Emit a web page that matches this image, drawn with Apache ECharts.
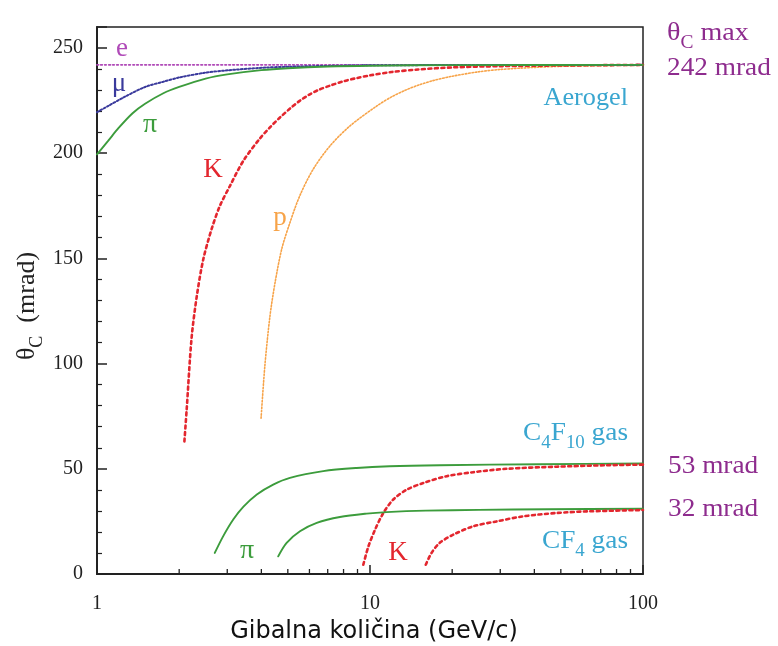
<!DOCTYPE html>
<html><head><meta charset="utf-8">
<script src="https://cdn.jsdelivr.net/npm/echarts@6/dist/echarts.min.js"></script>
<style>html,body{margin:0;padding:0;background:#fff}#c{width:778px;height:646px}</style>
</head><body><div id="c"></div>
<script>
// Aerogel radiator
const eP = [1, 100];
const eTheta = [242, 242];
const muP = [1, 1.1, 1.25, 1.5, 1.75, 2, 2.5, 3, 4, 5, 7, 10, 20, 100];
const muTheta = [219.5, 222.5, 226.5, 231.5, 234, 236, 238.3, 239.4, 240.6, 241.1, 241.5, 241.8, 241.9, 242];
const piP = [1, 1.1, 1.2, 1.35, 1.5, 1.75, 2, 2.5, 3, 4, 5, 7, 10, 20, 100];
const piTheta = [199.5, 206, 212, 219, 223.5, 228.5, 231.5, 235.5, 237.5, 239.5, 240.4, 241.2, 241.6, 241.9, 242];
const kP = [2.09, 2.13, 2.22, 2.32, 2.45, 2.63, 2.82, 3.07, 3.44, 3.95, 4.3, 4.68, 5.1, 5.54, 6, 6.5, 7.2, 8, 9, 10, 12, 15, 20, 30, 50, 100];
const kTheta = [63, 78, 112, 132, 149.5, 164, 175, 184.5, 196.5, 207, 212.3, 217, 221.3, 225, 227.9, 230.2, 232.3, 234.2, 235.8, 237, 238.6, 239.8, 240.8, 241.4, 241.7, 242];
const pP = [3.99, 4.12, 4.30, 4.49, 4.75, 5.09, 5.54, 6.2, 7.14, 8.45, 10.6, 12, 13.5, 15, 17, 20, 25, 30, 40, 50, 70, 100];
const pTheta = [74, 99, 122.5, 138.5, 154.5, 167, 180, 192.5, 203.5, 213, 222.5, 226.8, 230, 232.3, 234.5, 236.6, 238.7, 239.8, 240.8, 241.3, 241.6, 241.8];
// C4F10 gas
const gPiP = [2.70, 2.90, 3.16, 3.44, 3.85, 4.42, 5.09, 6.74, 8.93, 11.8, 18, 42, 100];
const gPiTheta = [10, 18, 26, 32, 37.8, 42.5, 45.7, 48.9, 50.4, 51.2, 51.7, 52.2, 52.5];
const gKP = [9.45, 9.86, 10.43, 11.19, 12.17, 13.6, 15.7, 19.1, 23.9, 31.6, 48.2, 73.5, 100];
const gKTheta = [4.4, 13, 21, 29, 35.4, 40, 43.3, 46.5, 48.4, 50, 51, 51.7, 52];
// CF4 gas
const cPiP = [4.61, 4.95, 5.54, 6.38, 7.76, 9.72, 11.5, 16, 25, 45, 100];
const cPiTheta = [8.4, 14.8, 20.3, 24.3, 27.1, 28.7, 29.4, 30.1, 30.5, 30.8, 31];
const cKP = [16.0, 16.8, 18.0, 20.2, 23.9, 29.1, 36.4, 48.2, 64, 100];
const cKTheta = [4.4, 10, 14.8, 18.7, 22.7, 25, 27.4, 29, 29.8, 30.4];
// axis ticks
const yTicks = [0, 50, 100, 150, 200, 250];
const xLabels = [1, 10, 100];
const xMinorTicks = [2, 3, 4, 5, 6, 7, 8, 9, 20, 30, 40, 50, 60, 70, 80, 90];

const zip = (a, b) => a.map((v, i) => [v, b[i]]);
const GREEN = '#3c9c3c', RED = '#e3262e', ORANGE = '#f7a348', NAVY = '#3a3a9c', PINK = '#b04ab8';
const TXTP = '#8e2c8e', CYAN = '#3aa6d0';
const SERIF = '"Liberation Serif", "DejaVu Serif", serif';

function line(name, data, color, width, type) {
  return {
    name, type: 'line', data, showSymbol: false, symbol: 'none',
    smooth: 0.3, z: 3,
    lineStyle: { color, width, type, cap: 'round' }
  };
}

const chart = echarts.init(document.getElementById('c'));
const txt = (x, y, text, color, size, align, rich, sx) => ({
  type: 'text', x, y, scaleX: sx || 1, style: {
    text, fill: color, fontFamily: SERIF, fontSize: size,
    align: align || 'center', verticalAlign: 'middle', rich: rich || undefined
  }
});
const sub = (color, size) => ({
  m: { fontFamily: SERIF, fontSize: size, fill: color, color },
  s: { fontFamily: SERIF, fontSize: Math.round(size * 0.68), fill: color, color, verticalAlign: 'bottom', padding: [0, 0, -6, 0] }
});

chart.setOption({
  animation: false,
  grid: { left: 97, right: 135, top: 27, bottom: 72, show: true, borderColor: '#222', borderWidth: 1.5, backgroundColor: 'transparent' },
  xAxis: {
    type: 'log', logBase: 10, min: 1, max: 100,
    axisLine: { lineStyle: { color: '#222', width: 2 } },
    axisTick: { show: true, inside: true, length: 9, lineStyle: { color: '#222', width: 1.5 } },
    splitLine: { show: false },
    axisLabel: { margin: 20, fontFamily: SERIF, fontSize: 20, color: '#222',
      formatter: v => (xLabels.indexOf(Math.round(v)) >= 0 ? String(Math.round(v)) : '') }
  },
  yAxis: {
    type: 'value', min: 0, max: 260, interval: 50,
    axisLine: { show: true, lineStyle: { color: '#222', width: 2 } },
    axisTick: { show: true, inside: true, length: 10, lineStyle: { color: '#222', width: 1.5 } },
    minorTick: { show: true, splitNumber: 5, length: 5, lineStyle: { color: '#222', width: 1.2 } },
    splitLine: { show: false },
    axisLabel: { margin: 14, fontFamily: SERIF, fontSize: 20, color: '#222', showMaxLabel: false,
      formatter: v => (yTicks.indexOf(v) >= 0 ? String(v) : '') }
  },
  series: [
    {
      type: 'custom', z: 4, silent: true,
      data: xMinorTicks.map(v => [v, 0]),
      renderItem: (params, api) => {
        const pt = api.coord([api.value(0), 0]);
        return { type: 'line', shape: { x1: pt[0], y1: pt[1], x2: pt[0], y2: pt[1] - 5 },
          style: { stroke: '#222', lineWidth: 1.3 } };
      }
    },
    line('e', zip(eP, eTheta), PINK, 1.8, [1.5, 2.5]),
    line('p', zip(pP, pTheta), ORANGE, 1.6, [1.5, 1.8]),
    line('K', zip(kP, kTheta), RED, 2.6, [3, 3.5]),
    line('mu', zip(muP, muTheta), NAVY, 2, [1.8, 2]),
    line('pi', zip(piP, piTheta), GREEN, 1.9, 'solid'),
    line('pi C4F10', zip(gPiP, gPiTheta), GREEN, 1.9, 'solid'),
    line('K C4F10', zip(gKP, gKTheta), RED, 2.6, [3, 3.5]),
    line('pi CF4', zip(cPiP, cPiTheta), GREEN, 1.9, 'solid'),
    line('K CF4', zip(cKP, cKTheta), RED, 2.6, [3, 3.5])
  ],
  graphic: [
    txt(122, 49, 'e', PINK, 27),
    txt(119, 84, 'μ', NAVY, 27),
    txt(150, 125, 'π', GREEN, 28),
    txt(213, 170, 'K', RED, 27),
    txt(280, 218, 'p', ORANGE, 27),
    txt(247, 551, 'π', GREEN, 28),
    txt(398, 553, 'K', RED, 27),
    txt(628, 98, 'Aerogel', CYAN, 25, 'right', null, 1.05),
    txt(628, 433, '{m|C}{s|4}{m|F}{s|10}{m| gas}', CYAN, 26, 'right', sub(CYAN, 26), 1.05),
    txt(628, 541, '{m|CF}{s|4}{m| gas}', CYAN, 26, 'right', sub(CYAN, 26), 1.05),
    txt(667, 33, '{m|θ}{s|C}{m| max}', TXTP, 26, 'left', sub(TXTP, 26), 1.08),
    txt(667, 68, '242 mrad', TXTP, 26, 'left', null, 1.05),
    txt(668, 466, '53 mrad', TXTP, 26, 'left', null, 1.05),
    txt(668, 509, '32 mrad', TXTP, 26, 'left', null, 1.05),
    {
      type: 'text', x: 27, y: 306, rotation: Math.PI / 2,
      style: { text: '{m|θ}{s|C}{m|  (mrad)}', align: 'center', verticalAlign: 'middle', fill: '#222',
        fontFamily: SERIF, fontSize: 26, rich: sub('#222', 26) }
    },
    {
      type: 'text', x: 374, y: 632,
      style: { text: 'Gibalna količina (GeV/c)', align: 'center', verticalAlign: 'middle', fill: '#111',
        fontFamily: '"DejaVu Sans", sans-serif', fontSize: 24 }
    }
  ]
});
</script></body></html>
